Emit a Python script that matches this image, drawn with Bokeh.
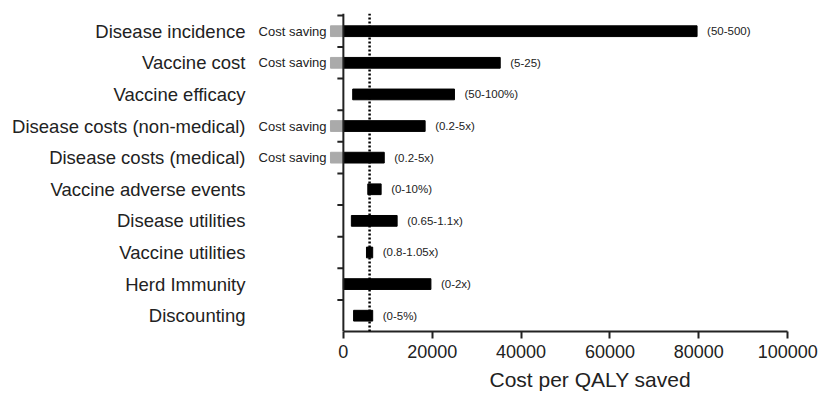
from bokeh.plotting import figure
from bokeh.models import (Range1d, FixedTicker, Span, Title, ColumnDataSource)
from bokeh.core.properties import value
from bokeh.embed import file_html
from bokeh.resources import INLINE

# ---- data ----
categories = ["Disease incidence", "Vaccine cost", "Vaccine efficacy",
              "Disease costs (non-medical)", "Disease costs (medical)",
              "Vaccine adverse events", "Disease utilities", "Vaccine utilities",
              "Herd Immunity", "Discounting"]
low = [0, 0, 2100, 0, 0, 5500, 1800, 5200, 0, 2300]
high = [79600, 35300, 25000, 18400, 9200, 8500, 12100, 6600, 19700, 6600]
cost_saving = [True, True, False, True, True, False, False, False, False, False]
range_labels = ["(50-500)", "(5-25)", "(50-100%)", "(0.2-5x)", "(0.2-5x)",
                "(0-10%)", "(0.65-1.1x)", "(0.8-1.05x)", "(0-2x)", "(0-5%)"]
base_case = 5900
x_ticks = [0, 20000, 40000, 60000, 80000, 100000]
x_tick_labels = ["0", "20000", "40000", "60000", "80000", "100000"]
cost_saving_extent = -2900

FONT = "Liberation Sans"
n = len(categories)
centers = [n - i - 0.5 for i in range(n)]

p = figure(width=823, height=396, output_backend="svg", toolbar_location=None,
           x_range=Range1d(-20000, 100400), y_range=Range1d(0, n + 0.06),
           min_border_left=254, min_border_right=34, min_border_top=13,
           min_border_bottom=65)
p.outline_line_color = None
p.xgrid.visible = False
p.ygrid.visible = False
p.background_fill_color = "white"
p.border_fill_color = "white"

# x axis
xa = p.xaxis[0]
xa.ticker = FixedTicker(ticks=x_ticks)
xa.major_label_overrides = {t: l for t, l in zip(x_ticks, x_tick_labels)}
xa.bounds = (x_ticks[0], x_ticks[-1])
xa.axis_line_width = 2
xa.axis_line_color = "#222222"
xa.major_tick_line_width = 2
xa.major_tick_line_color = "#222222"
xa.major_tick_out = 7
xa.major_tick_in = 0
xa.minor_tick_line_color = None
xa.major_label_standoff = 6
xa.major_label_text_font = FONT
xa.major_label_text_font_size = "18px"
xa.major_label_text_color = "#222222"

# y axis (category labels)
ya = p.yaxis[0]
ya.ticker = FixedTicker(ticks=centers)
ya.major_label_overrides = {c: cat for c, cat in zip(centers, categories)}
ya.axis_line_color = None
ya.major_tick_line_color = None
ya.minor_tick_line_color = None
ya.major_label_standoff = 3
ya.major_label_text_font = FONT
ya.major_label_text_font_size = "18.5px"
ya.major_label_text_color = "#222222"

# y axis line at x = 0 and boundary ticks
p.add_layout(Span(location=0, dimension="height", line_width=2, line_color="#222222"))
bounds_y = list(range(1, n + 1))
p.segment(x0=[-1350] * len(bounds_y), x1=[0] * len(bounds_y), y0=bounds_y, y1=bounds_y,
          line_width=2, line_color="#222222")

# bars
src = ColumnDataSource(dict(y=centers, left=low, right=high, lab=range_labels))
p.hbar(y="y", left="left", right="right", height=0.34, source=src,
       fill_color="black", line_color="black")

cs_y = [c for c, f in zip(centers, cost_saving) if f]
p.hbar(y=cs_y, left=[cost_saving_extent] * len(cs_y), right=[0] * len(cs_y), height=0.34,
       fill_color="#aaaaaa", line_color="#aaaaaa")
p.text(x=[cost_saving_extent] * len(cs_y), y=cs_y, text=["Cost saving"] * len(cs_y),
       x_offset=-4, text_align="right", text_baseline="middle",
       text_font=value(FONT), text_font_size="13px", text_color="#222222")

# range labels
p.text(x="right", y="y", text="lab", source=src, x_offset=10,
       text_align="left", text_baseline="middle",
       text_font=value(FONT), text_font_size="11.5px", text_color="#222222")

# base case dotted line
p.add_layout(Span(location=base_case, dimension="height", line_width=2.5,
                  line_color="black", line_dash="2 2"))

# x axis title
p.add_layout(Title(text="Cost per QALY saved", align="left", offset=235, standoff=10,
                   text_font=FONT, text_font_size="21px", text_font_style="normal",
                   text_color="#222222"), "below")

open("out.html", "w").write(file_html(p, INLINE))
